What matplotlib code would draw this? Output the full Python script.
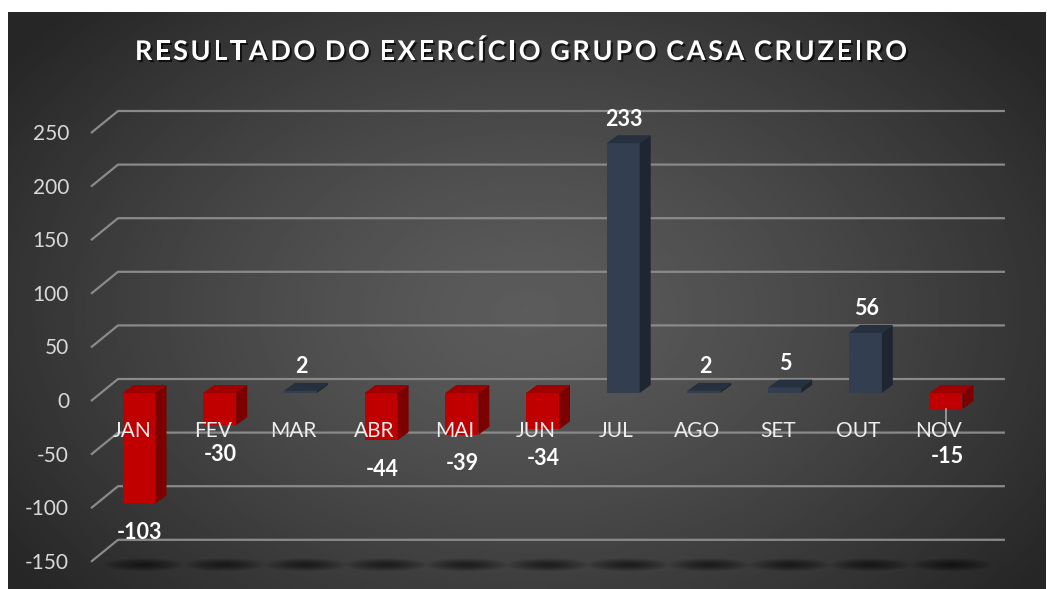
import numpy as np
import matplotlib
matplotlib.use("Agg")
import matplotlib.pyplot as plt
from matplotlib.patches import Polygon, Ellipse
import matplotlib.patheffects as pe

# data
meses = ["JAN", "FEV", "MAR", "ABR", "MAI", "JUN", "JUL", "AGO", "SET", "OUT", "NOV"]
resultado = [-103, -30, 2, -44, -39, -34, 233, 2, 5, 56, -15]
y_ticks = [-150, -100, -50, 0, 50, 100, 150, 200, 250]
titulo = "RESULTADO DO EXERCÍCIO GRUPO CASA CRUZEIRO"

W, H = 1047, 589
fig = plt.figure(figsize=(W / 100, H / 100), dpi=100)
fig.patch.set_facecolor("white")

# background with radial gradient
bg = fig.add_axes([8 / W, 0, (W - 9) / W, (H - 12) / H])
yy, xx = np.mgrid[0:1:300j, 0:1:500j]
r = np.sqrt(((xx - 0.5) / 0.62) ** 2 + ((yy - 0.52) / 0.75) ** 2)
r = np.clip(r, 0, 1)
dark, light = 0.15, 0.36
img = light - (light - dark) * r ** 1.3
bg.imshow(img, cmap="gray", vmin=0, vmax=1, aspect="auto", extent=[0, 1, 0, 1],
          interpolation="bilinear")
bg.set_axis_off()

# main axes: scale chosen so category step ~80.7px, 1 unit ~1.072px
px_cat = 80.7
px_unit = 1.072
x0_px, zero_px = 139, 393
xlim = (-1.2, 11.0)
ylim = (-175, 280)
left = (x0_px + xlim[0] * px_cat) / W
width = (xlim[1] - xlim[0]) * px_cat / W
bottom = (H - (zero_px - ylim[0] * px_unit)) / H
height = (ylim[1] - ylim[0]) * px_unit / H
ax = fig.add_axes([left, bottom, width, height])
ax.set_xlim(*xlim)
ax.set_ylim(*ylim)
ax.set_axis_off()
ax.patch.set_alpha(0)

def ux(p):
    return p / px_cat

def uy(p):
    return p / px_unit

grid_col = "#8a8a8a"
xb_left, xb_right, x_front = -0.26, 10.73, -0.595
for v in y_ticks:
    yb = v + uy(14)
    yf = v - uy(8)
    ax.plot([x_front, xb_left, xb_right], [yf, yb, yb], color=grid_col, lw=1.6,
            solid_capstyle="butt", zorder=1)
    ax.text(-0.867, v - uy(9), f"{v}", ha="right", va="center", color="#d9d9d9",
            fontsize=15, family="Lato")

# floor shadows (soft)
for i in range(len(meses)):
    for k in range(12):
        f = 1 - k / 13
        ax.add_patch(Ellipse((i + ux(5), -150 - uy(11)), ux(82) * f, uy(13) * f,
                             facecolor="black", edgecolor="none", alpha=0.05, zorder=1.5))

# 3D-looking bars
bw = 33 / px_cat
ddx, ddy = ux(11), uy(8)
for i, v in enumerate(resultado):
    if v < 0:
        front, top, side = "#c00000", "#a00000", "#7c0000"
    else:
        front, top, side = "#333f50", "#27303e", "#1f2632"
    ax.bar(i, v, width=bw, color=front, zorder=3)
    xl, xr = i - bw / 2, i + bw / 2
    ytop = max(v, 0)
    ax.add_patch(Polygon([(xl, ytop), (xr, ytop), (xr + ddx, ytop + ddy), (xl + ddx, ytop + ddy)],
                         closed=True, facecolor=top, edgecolor="none", zorder=3))
    ax.add_patch(Polygon([(xr, 0), (xr, v), (xr + ddx, v + ddy), (xr + ddx, ddy)],
                         closed=True, facecolor=side, edgecolor="none", zorder=3))

# category labels
cat_y = -35.4
for i, m in enumerate(meses):
    ax.text(i - 0.087, cat_y, m, ha="center", va="center", color="#eeeeee",
            fontsize=15, family="Lato", zorder=5)

# data labels
for i, v in enumerate(resultado):
    if v >= 0:
        ly = v + uy(24)
    else:
        ly = v - uy(29)
        if abs(ly - cat_y) < 15:
            ax.plot([i, i], [v, -29.9], color="#a6a6a6", lw=1.2, zorder=4)
            ly = -58.8
    ax.text(i + ux(1), ly, f"{v}", ha="center", va="center", color="white",
            fontsize=15.5, fontweight="bold", family="Lato", zorder=6)

# title with letter spacing
renderer = fig.canvas.get_renderer()
shadow = [pe.withSimplePatchShadow(offset=(1.5, -1.5), shadow_rgbFace="black", alpha=0.7)]
kw = dict(fontsize=19.5, fontweight="bold", family="Lato", color="white", va="center")
spacing = 2.6
widths = []
for ch in titulo:
    t = fig.text(0, 0, ch if ch != " " else "I", **kw)
    wpx = t.get_window_extent(renderer).width
    widths.append(wpx * (0.55 if ch == " " else 1))
    t.remove()
total = sum(widths) + spacing * (len(titulo) - 1)
xc = 521 - total / 2
for ch, wpx in zip(titulo, widths):
    if ch != " ":
        fig.text(xc / W, 1 - 52 / H, ch, ha="left", path_effects=shadow, **kw)
    xc += wpx + spacing

fig.savefig("out.png", dpi=100)
